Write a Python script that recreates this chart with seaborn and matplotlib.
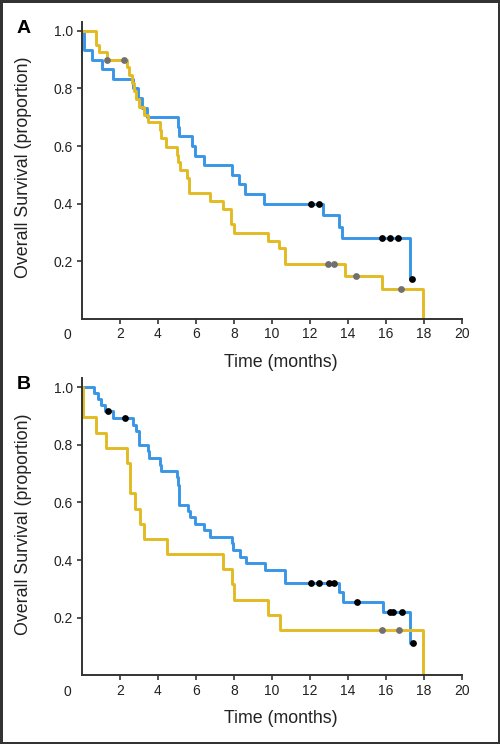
import numpy as np
import pandas as pd
import seaborn as sns
import matplotlib.pyplot as plt

# ---- panel A ----
a_blue_t = [0, 0.08, 0.54, 1.07, 1.64, 2.70, 2.96, 3.14, 3.40, 5.04, 5.12, 5.80, 5.93, 6.40,
            7.90, 8.28, 8.60, 9.60, 12.68, 13.54, 13.68, 17.26, 17.38]
a_blue_s = [1.0, 0.933, 0.90, 0.867, 0.833, 0.80, 0.767, 0.733, 0.70, 0.667, 0.633, 0.60, 0.567, 0.533,
            0.50, 0.467, 0.433, 0.40, 0.36, 0.32, 0.28, 0.14, 0.14]
a_blue_cens_t = [12.03, 12.45, 15.79, 16.23, 16.65, 17.38]
a_blue_cens_s = [0.40, 0.40, 0.28, 0.28, 0.28, 0.14]

a_gold_t = [0, 0.76, 0.88, 1.30, 2.35, 2.47, 2.61, 2.74, 2.85, 3.02, 3.28, 3.49, 4.10, 4.16, 4.42,
            5.00, 5.05, 5.15, 5.55, 5.63, 6.74, 7.44, 7.85, 8.02, 9.77, 10.38, 10.70, 13.84, 15.77, 17.95]
a_gold_s = [1.0, 0.95, 0.925, 0.90, 0.875, 0.845, 0.817, 0.79, 0.762, 0.734, 0.708, 0.682, 0.656, 0.627, 0.598,
            0.569, 0.543, 0.517, 0.488, 0.436, 0.408, 0.38, 0.328, 0.30, 0.272, 0.245, 0.19, 0.15, 0.103, 0.0]
a_gold_cens_t = [1.30, 2.21, 12.97, 13.25, 14.42, 16.81]
a_gold_cens_s = [0.90, 0.90, 0.19, 0.19, 0.15, 0.103]

# ---- panel B ----
b_blue_t = [0, 0.62, 0.86, 1.00, 1.21, 1.65, 2.70, 2.84, 3.00, 3.45, 3.52, 4.10, 4.16, 4.98, 5.03, 5.10,
            5.60, 5.68, 5.95, 6.40, 6.72, 7.88, 7.93, 8.32, 8.65, 9.62, 10.70, 13.52, 13.75, 15.86,
            17.26, 17.40]
b_blue_s = [1.0, 0.98, 0.958, 0.938, 0.916, 0.893, 0.87, 0.847, 0.80, 0.778, 0.754, 0.731, 0.71, 0.687, 0.662, 0.592,
            0.57, 0.549, 0.527, 0.505, 0.481, 0.458, 0.435, 0.412, 0.389, 0.366, 0.32, 0.288, 0.256, 0.221,
            0.112, 0.112]
b_blue_cens_t = [1.35, 2.26, 12.04, 12.49, 13.00, 13.25, 14.46, 16.22, 16.36, 16.82, 17.40]
b_blue_cens_s = [0.916, 0.893, 0.32, 0.32, 0.32, 0.32, 0.256, 0.221, 0.221, 0.221, 0.112]

b_gold_t = [0, 0.07, 0.74, 1.26, 2.35, 2.53, 2.77, 3.03, 3.28, 4.45, 7.42, 7.88, 8.00, 9.78, 10.40, 17.95]
b_gold_s = [1.0, 0.895, 0.842, 0.789, 0.737, 0.632, 0.579, 0.526, 0.474, 0.421, 0.368, 0.316, 0.263, 0.211, 0.158, 0.0]
b_gold_cens_t = [15.80, 16.67]
b_gold_cens_s = [0.158, 0.158]

x_ticks = list(range(2, 21, 2))
y_ticks = [0.2, 0.4, 0.6, 0.8, 1.0]
y_ticklabels = ["0.2", "0.4", "0.6", "0.8", "1.0"]

sns.set_style("ticks")
plt.rcParams["font.family"] = ["Liberation Sans", "DejaVu Sans"]

blue = "#3996e6"
gold = "#e2bb22"
ink = "#222222"

fig = plt.figure(figsize=(5, 7.44), dpi=100)
fig.patch.set_edgecolor("#333333")
fig.patch.set_linewidth(2.5)


def draw_panel(ax, bt, bs, gt, gs, bct, bcs, gct, gcs, letter):
    sns.lineplot(x=bt, y=bs, drawstyle="steps-post", color=blue, lw=2.1,
                 estimator=None, sort=False, ax=ax)
    sns.lineplot(x=gt, y=gs, drawstyle="steps-post", color=gold, lw=2.1,
                 estimator=None, sort=False, ax=ax)
    sns.scatterplot(x=bct, y=bcs, color="black", s=24, linewidth=0, ax=ax, zorder=5)
    sns.scatterplot(x=gct, y=gcs, color="#707070", s=24, linewidth=0, ax=ax, zorder=5)

    ax.set_xlim(0, 20)
    ax.set_ylim(0, 1.03)
    ax.set_xticks(x_ticks)
    ax.set_yticks(y_ticks)
    ax.set_yticklabels(y_ticklabels)
    sns.despine(ax=ax)
    for side in ["left", "bottom"]:
        ax.spines[side].set_linewidth(1.4)
        ax.spines[side].set_color("#333333")
    ax.tick_params(axis="both", length=3.6, width=1.2, color="#333333",
                   labelsize=10, labelcolor=ink)
    ax.tick_params(axis="x", pad=2.5)
    ax.tick_params(axis="y", pad=3)

    ax.annotate("0", xy=(0, 0), xycoords="data", xytext=(-10.3, -11.8),
                textcoords="offset points", ha="center", va="center",
                fontsize=10, color=ink, annotation_clip=False)

    ax.set_ylabel("Overall Survival (proportion)", fontsize=12.8,
                  color=ink, va="center")
    ax.yaxis.set_label_coords(-0.153, 0.51)
    ax.set_xlabel("Time (months)", fontsize=12.8, color=ink, va="center")
    ax.xaxis.set_label_coords(0.524, -0.145)

    pos = ax.get_position()
    fig.text(24 / 500, pos.y1 - 6 / 744, letter, fontsize=14, fontweight="bold",
             ha="center", va="center", color="black")


ax_a = fig.add_axes([0.164, 0.5712, 0.76, 0.3992])
ax_b = fig.add_axes([0.164, 0.0921, 0.76, 0.3992])

draw_panel(ax_a, a_blue_t, a_blue_s, a_gold_t, a_gold_s,
           a_blue_cens_t, a_blue_cens_s, a_gold_cens_t, a_gold_cens_s, "A")
draw_panel(ax_b, b_blue_t, b_blue_s, b_gold_t, b_gold_s,
           b_blue_cens_t, b_blue_cens_s, b_gold_cens_t, b_gold_cens_s, "B")

fig.savefig("out.png", dpi=100, edgecolor=fig.get_edgecolor())
